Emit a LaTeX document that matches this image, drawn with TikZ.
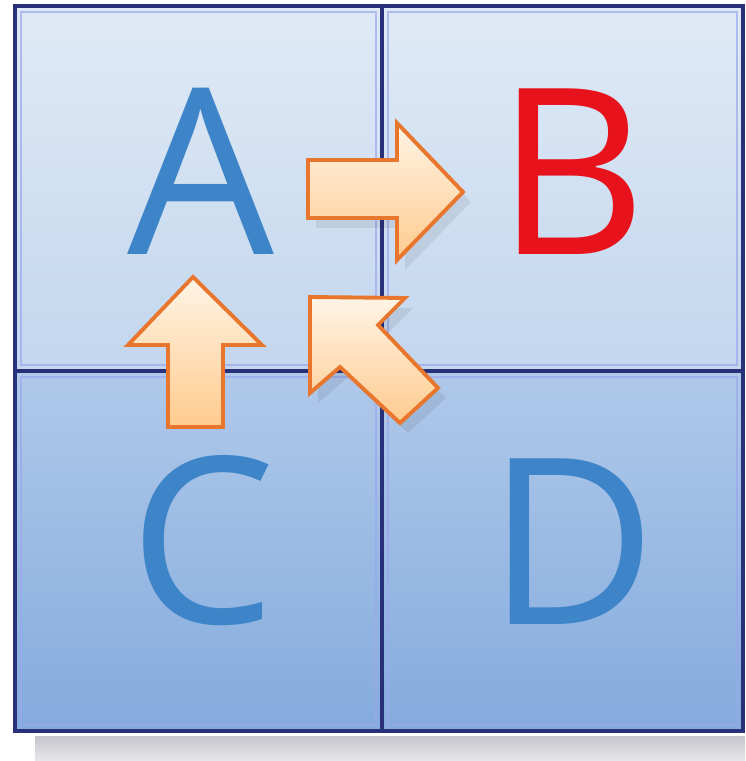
\documentclass[tikz,border=0pt]{standalone}
\usepackage{fontspec}
\setmainfont{Open Sans}
\definecolor{frameblue}{HTML}{283079}
\definecolor{framelight}{HTML}{9AA8EC}
\definecolor{rowtopA}{HTML}{E0EAF6}
\definecolor{rowtopB}{HTML}{C2D6EE}
\definecolor{rowbotA}{HTML}{B0C9EA}
\definecolor{rowbotB}{HTML}{84ABDD}
\definecolor{letterblue}{HTML}{3D85C8}
\definecolor{letterred}{HTML}{E8121C}
\definecolor{arrowedge}{HTML}{E8762C}
\definecolor{arrowlight}{HTML}{FFF4E6}
\definecolor{arrowdark}{HTML}{FFCB8E}
\definecolor{shadowgray}{HTML}{D6D6DE}
\begin{document}
\begin{tikzpicture}[x=0.01cm,y=-0.01cm,
  letter/.style={inner sep=0pt,anchor=base,font=\fontsize{66}{66}\selectfont,text=letterblue},
  gridline/.style={draw=frameblue,line width=1.25pt},
  highlight/.style={draw=framelight,line width=0.6pt,opacity=0.7},
  blockarrow/.style={draw=arrowedge,line width=1.1pt,line join=miter,top color=arrowlight,bottom color=arrowdark},
  arrowshadow/.style={fill=black,opacity=0.07}]
\useasboundingbox (0,0) rectangle (745,761);
% drop shadow of the panel
\shade[top color=shadowgray!80!gray, bottom color=shadowgray!60!white] (35,736) rectangle (745,761);
% cell backgrounds
\shade[top color=rowtopA,bottom color=rowtopB] (15,6) rectangle (743,371);
\shade[top color=rowbotA,bottom color=rowbotB] (15,371) rectangle (743,731);
% inner highlights of cells
\draw[highlight] (21,12) rectangle (376,365);
\draw[highlight] (388,12) rectangle (737,365);
\draw[highlight] (21,377) rectangle (376,725);
\draw[highlight] (388,377) rectangle (737,725);
% grid
\draw[gridline] (15,6) rectangle (743,731);
\draw[gridline] (382,6) -- (382,731);
\draw[gridline] (15,371) -- (743,371);
% letters
\node[letter] (A) at (201,255) {A};
\node[letter,text=letterred] (B) at (572,255) {B};
\node[letter] (C) at (203,623) {C};
\node[letter] (D) at (572,624) {D};
% arrow shadows
\fill[arrowshadow] (316,170) -- (405,170) -- (405,133) -- (471,202) -- (405,270) -- (405,228) -- (316,228) -- cycle;
\fill[arrowshadow] (318,307) -- (413,308) -- (386,335) -- (446,398) -- (408,433) -- (348,377) -- (318,403) -- cycle;
% block arrows
\draw[blockarrow] (308,160) -- (397,160) -- (397,123) -- (463,192) -- (397,260) -- (397,218) -- (308,218) -- cycle;
\draw[blockarrow] (193,277) -- (262,345) -- (223,345) -- (223,427) -- (168,427) -- (168,345) -- (128,345) -- cycle;
\draw[blockarrow] (310,297) -- (405,298) -- (378,325) -- (438,388) -- (400,423) -- (340,367) -- (310,393) -- cycle;
\end{tikzpicture}
\end{document}
